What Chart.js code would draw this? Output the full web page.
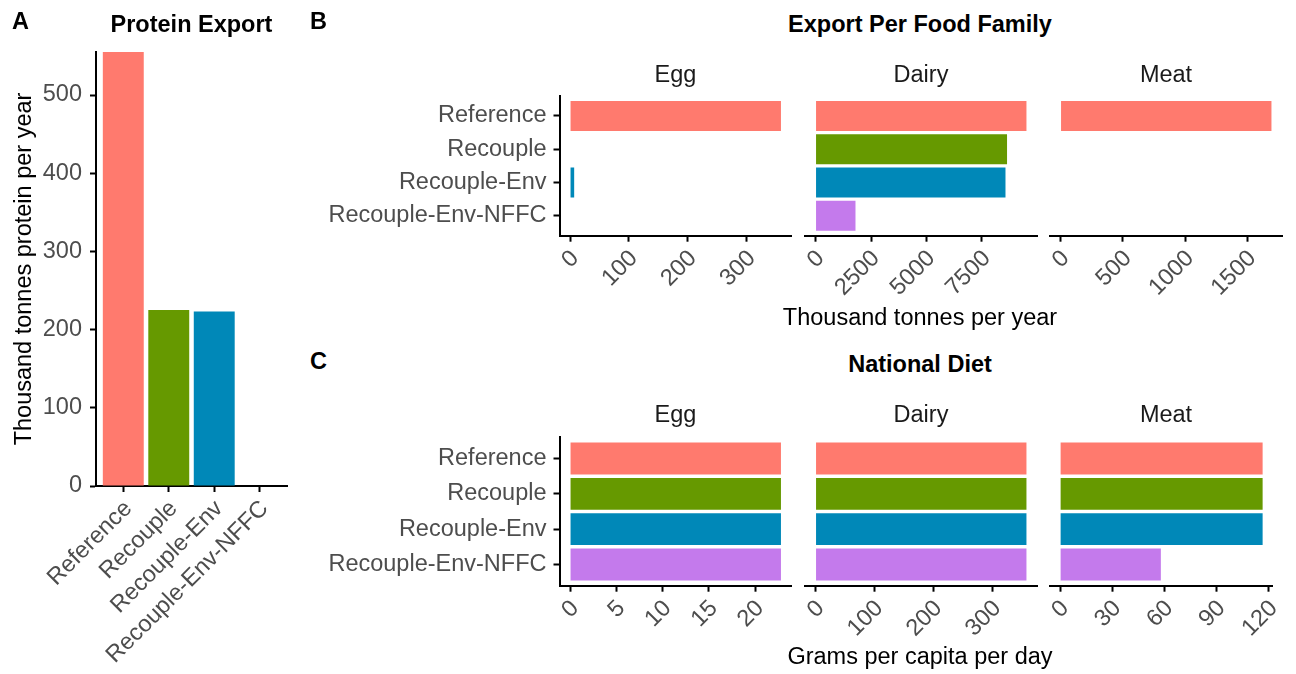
<!DOCTYPE html>
<html>
<head>
<meta charset="utf-8">
<script src="https://cdn.jsdelivr.net/npm/chart.js@4.4.1/dist/chart.umd.min.js"></script>
<style>
html, body { margin: 0; padding: 0; background: #fff; }
#figure { position: relative; width: 1296px; height: 674px; overflow: hidden; font-family: 'Liberation Sans', Arial, sans-serif; }
#figure canvas { position: absolute; }
.lbl { position: absolute; line-height: 1; white-space: nowrap; font-size: 23.5px; color: #000; }
</style>
</head>
<body>
<div id="figure"></div>
<script>
var scenarios = ['Reference', 'Recouple', 'Recouple-Env', 'Recouple-Env-NFFC'];
var scenarioColors = ['#FF7A6E', '#669900', '#0088B8', '#C47AEC'];
var families = ['Egg', 'Dairy', 'Meat'];

// panel A
var proteinExport = [555, 225, 223, 0];
var proteinTicks = [0, 100, 200, 300, 400, 500];

// panel B, thousand tonnes per year
var exportEgg = [358, 0, 7, 0];
var exportDairy = [9505, 8630, 8560, 1800];
var exportMeat = [1693, 0, 0, 0];
var exportTicks = [[0, 100, 200, 300], [0, 2500, 5000, 7500], [0, 500, 1000, 1500]];

// panel C, grams per capita per day
var dietEgg = [22.8, 22.8, 22.8, 22.8];
var dietDairy = [358, 358, 358, 358];
var dietMeat = [116.4, 116.4, 116.4, 57.9];
var dietTicks = [[0, 5, 10, 15, 20], [0, 100, 200, 300], [0, 30, 60, 90, 120]];

Chart.defaults.font.family = "'Liberation Sans', Arial, sans-serif";
Chart.defaults.font.size = 23.5;
Chart.defaults.color = '#4D4D4D';

var fig = document.getElementById('figure');

addCanvas = function(left, top, w, h) {
    var c = document.createElement('canvas');
    c.width = w;
    c.height = h;
    c.style.left = left + 'px';
    c.style.top = top + 'px';
    c.style.width = w + 'px';
    c.style.height = h + 'px';
    fig.appendChild(c);
    return c;
}

addLabel = function(text, x, baseline, align, bold, color) {
    var d = document.createElement('div');
    d.className = 'lbl';
    d.textContent = text;
    d.style.top = (baseline - 0.8465 * 23.5) + 'px';
    d.style.left = x + 'px';
    if (align == 'center') d.style.transform = 'translateX(-50%)';
    if (bold) d.style.fontWeight = 'bold';
    if (color) d.style.color = color;
    fig.appendChild(d);
}

var tickGrid = { display: true, offset: false, drawOnChartArea: false, drawTicks: true, tickLength: 6, tickWidth: 2, tickColor: '#000' };
var axisBorder = { display: true, color: '#000', width: 2 };

// vertical bars for panel A
var cA = addCanvas(0, 0, 300, 674);
new Chart(cA, {
    type: 'bar',
    data: {
        datasets: [{
            data: proteinExport.map(function(v, i) { return { x: i + 1, y: v }; }),
            backgroundColor: scenarioColors,
            barPercentage: 0.9,
            categoryPercentage: 1
        }]
    },
    options: {
        responsive: false,
        animation: false,
        layout: { padding: { top: 52, right: 13, bottom: 0, left: 0 } },
        plugins: { legend: { display: false }, tooltip: { enabled: false } },
        scales: {
            x: {
                type: 'linear', offset: false, min: 0.4, max: 4.6,
                afterBuildTicks: function(s) { s.ticks = scenarios.map(function(n, i) { return { value: i + 1 }; }); },
                afterFit: function(s) { s.height = 188; },
                ticks: { autoSkip: false, minRotation: 45, maxRotation: 45, padding: 3, labelOffset: 5,
                         callback: function(v) { return scenarios[v - 1]; } },
                grid: tickGrid,
                border: axisBorder
            },
            y: {
                type: 'linear', min: 0, max: Math.max.apply(null, proteinExport),
                afterBuildTicks: function(s) { s.ticks = proteinTicks.map(function(v) { return { value: v }; }); },
                afterFit: function(s) { s.width = 96; },
                ticks: { padding: 8, callback: function(v) { return String(v); } },
                grid: tickGrid,
                border: axisBorder,
                title: { display: true, text: 'Thousand tonnes protein per year', color: '#000', padding: { top: 10, bottom: 0 } }
            }
        }
    }
});

// one facet of a horizontal bar panel
facetChart = function(left, top, width, height, pad, yWidth, xHeight, values, ticks, showY) {
    var c = addCanvas(left, top, width, height);
    var hi = Math.max.apply(null, values);
    return new Chart(c, {
        type: 'bar',
        data: {
            datasets: [{
                data: values.map(function(v, i) { return { x: v, y: i + 1 }; }),
                backgroundColor: scenarioColors,
                barPercentage: 0.9,
                categoryPercentage: 1
            }]
        },
        options: {
            indexAxis: 'y',
            responsive: false,
            animation: false,
            layout: { padding: pad },
            plugins: { legend: { display: false }, tooltip: { enabled: false } },
            scales: {
                x: {
                    type: 'linear', min: -0.05 * hi, max: 1.05 * hi,
                    afterBuildTicks: function(s) { s.ticks = ticks.map(function(v) { return { value: v }; }); },
                    afterFit: function(s) { s.height = xHeight; },
                    ticks: { autoSkip: false, minRotation: 45, maxRotation: 45, padding: 3, labelOffset: 5,
                             callback: function(v) { return String(v); } },
                    grid: tickGrid,
                    border: axisBorder
                },
                y: {
                    type: 'linear', display: showY, offset: false, reverse: true, min: 0.4, max: 4.6,
                    afterBuildTicks: function(s) { s.ticks = scenarios.map(function(n, i) { return { value: i + 1 }; }); },
                    afterFit: function(s) { s.width = yWidth; },
                    ticks: { padding: 7, callback: function(v) { return scenarios[v - 1]; } },
                    grid: tickGrid,
                    border: axisBorder
                }
            }
        }
    });
}

// panel B: plot area y 96..235.7
facetChart(300, 60, 502, 260, { top: 36, right: 10.5, bottom: 0, left: 0 }, 259.5, 84.3, exportEgg, exportTicks[0], true);
facetChart(785, 80, 262, 240, { top: 16, right: 10, bottom: 0, left: 20 }, 0, 84.3, exportDairy, exportTicks[1], false);
facetChart(1030, 80, 262, 240, { top: 16, right: 10, bottom: 0, left: 20 }, 0, 84.3, exportMeat, exportTicks[2], false);

// panel C: plot area y 437.3..585.7
facetChart(300, 400, 502, 260, { top: 37.3, right: 10.5, bottom: 0, left: 0 }, 259.5, 74.3, dietEgg, dietTicks[0], true);
facetChart(785, 420, 262, 240, { top: 17.3, right: 10, bottom: 0, left: 20 }, 0, 74.3, dietDairy, dietTicks[1], false);
facetChart(1030, 420, 262, 240, { top: 17.3, right: 10, bottom: 0, left: 20 }, 0, 74.3, dietMeat, dietTicks[2], false);

// titles, strips and shared axis titles
var stripX = [675.5, 921, 1166];
addLabel('A', 12, 30, 'left', true);
addLabel('Protein Export', 191.5, 33, 'center', true);
addLabel('B', 310, 30, 'left', true);
addLabel('Export Per Food Family', 920, 33, 'center', true);
addLabel('C', 310, 370, 'left', true);
addLabel('National Diet', 920, 373, 'center', true);
for (var i = 0; i < families.length; i++) {
    addLabel(families[i], stripX[i], 83, 'center', false, '#1A1A1A');
    addLabel(families[i], stripX[i], 423, 'center', false, '#1A1A1A');
}
addLabel('Thousand tonnes per year', 920, 326, 'center', false);
addLabel('Grams per capita per day', 920, 665, 'center', false);
</script>
</body>
</html>
